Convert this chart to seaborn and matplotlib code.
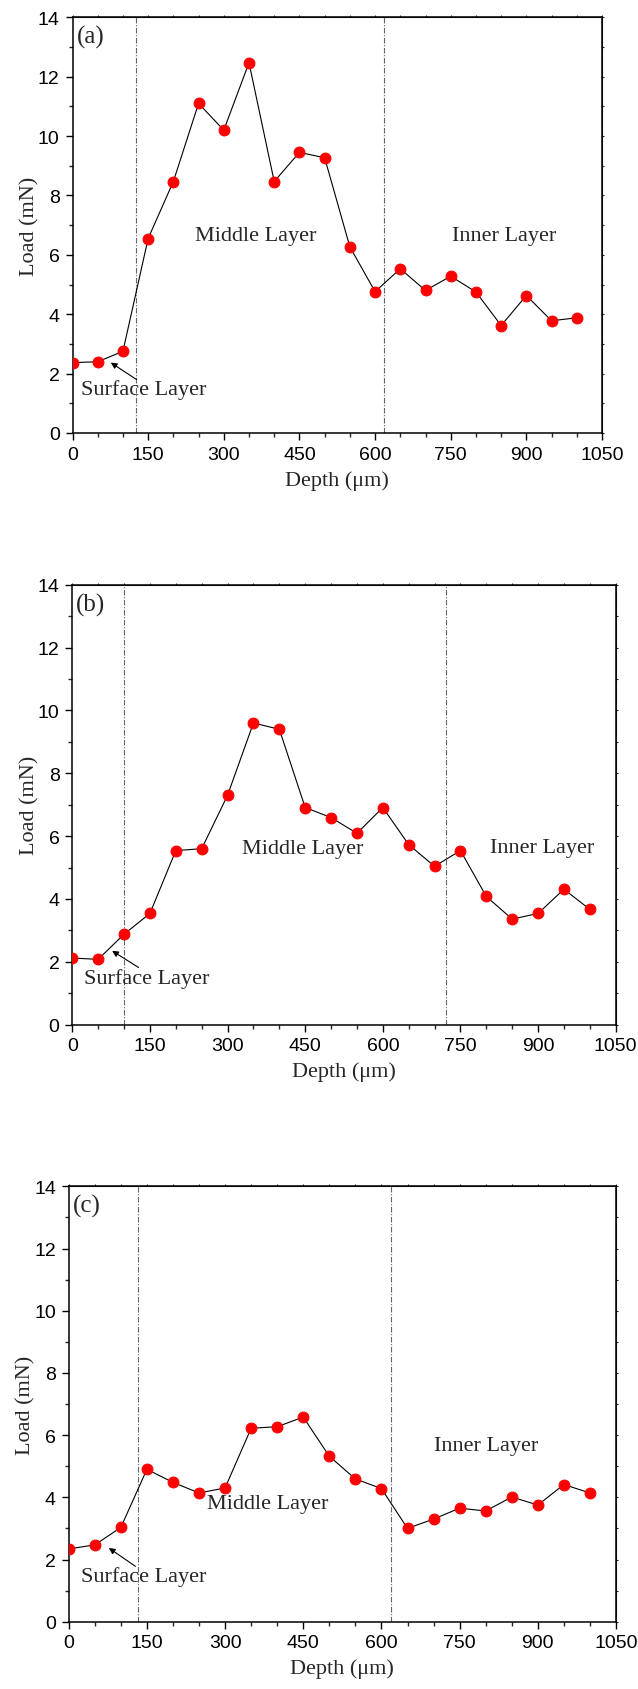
import numpy as np
import pandas as pd
import seaborn as sns
import matplotlib.pyplot as plt
from matplotlib.ticker import MultipleLocator

# depth positions shared by the three profiles (um)
depth = [0, 50, 100, 150, 200, 250, 300, 350, 400, 450, 500,
         550, 600, 650, 700, 750, 800, 850, 900, 950, 1000]

load_a = [2.37, 2.40, 2.75, 6.55, 8.47, 11.10, 10.20, 12.47, 8.47, 9.45, 9.27,
          6.27, 4.76, 5.53, 4.80, 5.28, 4.75, 3.62, 4.63, 3.78, 3.88]
load_b = [2.12, 2.08, 2.88, 3.54, 5.54, 5.60, 7.30, 9.60, 9.40, 6.91, 6.59,
          6.09, 6.91, 5.73, 5.04, 5.54, 4.08, 3.36, 3.54, 4.31, 3.67]
load_c = [2.34, 2.47, 3.03, 4.90, 4.48, 4.14, 4.30, 6.22, 6.27, 6.58, 5.32,
          4.59, 4.28, 3.00, 3.30, 3.65, 3.56, 4.01, 3.75, 4.41, 4.14]

panel_tags = ["(a)", "(b)", "(c)"]
# layer boundaries (depth, um)
boundaries = [[125, 618], [100, 723], [132, 619]]
# label anchor positions (depth, load)
middle_pos = [(363, 6.64), (445, 5.62), (381, 3.79)]
inner_pos = [(855, 6.65), (907, 5.64), (801, 5.66)]
surface_pos = [(141, 1.49), (144, 1.48), (144, 1.48)]
arrow_head = [(76, 2.37), (77, 2.35), (77, 2.37)]
arrow_tail = [(127, 1.80), (128, 1.82), (128, 1.78)]

sns.set_style("ticks")
plt.rcParams["font.family"] = ["Liberation Sans", "DejaVu Sans"]
serif = ["Liberation Serif", "DejaVu Serif"]

W, H = 638, 1690
fig = plt.figure(figsize=(W / 100, H / 100), dpi=100)

# axes boxes in pixels: left, right, top, bottom
boxes = [(72.5, 602, 18.3, 434), (72.3, 615.7, 585.7, 1025.7), (68.7, 616, 1187.3, 1622.7)]

for i, loads in enumerate([load_a, load_b, load_c]):
    l, r, t, b = boxes[i]
    ax = fig.add_axes([l / W, 1 - b / H, (r - l) / W, (b - t) / H])
    df = pd.DataFrame({"Depth": depth, "Load": loads})

    for xb in boundaries[i]:
        ax.axvline(xb, color="#666666", lw=0.8, ls=(0, (5, 1.5, 1, 1.5)), zorder=1)

    sns.lineplot(data=df, x="Depth", y="Load", ax=ax, color="black", lw=0.8,
                 marker="o", markersize=7.8, markerfacecolor="red",
                 markeredgecolor="red", zorder=3)

    ax.set_xlim(0, 1050)
    ax.set_ylim(0, 14)
    ax.xaxis.set_major_locator(MultipleLocator(150))
    ax.xaxis.set_minor_locator(MultipleLocator(50))
    ax.yaxis.set_major_locator(MultipleLocator(2))
    ax.yaxis.set_minor_locator(MultipleLocator(1))
    ax.tick_params(which="major", length=5.2, width=1.0, pad=4, labelsize=14,
                   direction="out", color="black", labelcolor="black")
    ax.tick_params(which="minor", length=3, width=1.0, direction="out")
    for s in ax.spines.values():
        s.set_visible(True)
        s.set_linewidth(1.1)
        s.set_color("black")

    # small mirrored ticks on top and right
    sx = ax.secondary_xaxis("top")
    sx.set_xticks(np.arange(0, 1051, 50))
    sx.tick_params(length=1.6, width=0.8, labeltop=False, direction="out")
    sy = ax.secondary_yaxis("right")
    sy.set_yticks(np.arange(0, 15, 1))
    sy.tick_params(length=1.6, width=0.8, labelright=False, direction="out")

    hpx = b - t
    wpx = r - l
    ax.set_xlabel("Depth (\u03bcm)", fontsize=16, family=serif)
    ax.set_ylabel("Load (mN)", fontsize=16, family=serif)
    ax.xaxis.set_label_coords(0.5, -37 / hpx)
    ax.yaxis.set_label_coords(-33 / wpx, 0.5)

    ax.text(4 / wpx, 1 - 8 / hpx, panel_tags[i], transform=ax.transAxes,
            ha="left", va="top", fontsize=18, family=serif)
    ax.text(*middle_pos[i], "Middle Layer", ha="center", va="center",
            fontsize=16, family=serif)
    ax.text(*inner_pos[i], "Inner Layer", ha="center", va="center",
            fontsize=16, family=serif)
    ax.text(*surface_pos[i], "Surface Layer", ha="center", va="center",
            fontsize=16, family=serif)
    ax.annotate("", xy=arrow_head[i], xytext=arrow_tail[i],
                arrowprops=dict(arrowstyle="-|>", color="black", lw=0.8,
                                mutation_scale=9, shrinkA=0, shrinkB=0))

fig.savefig("out.png", dpi=100)
